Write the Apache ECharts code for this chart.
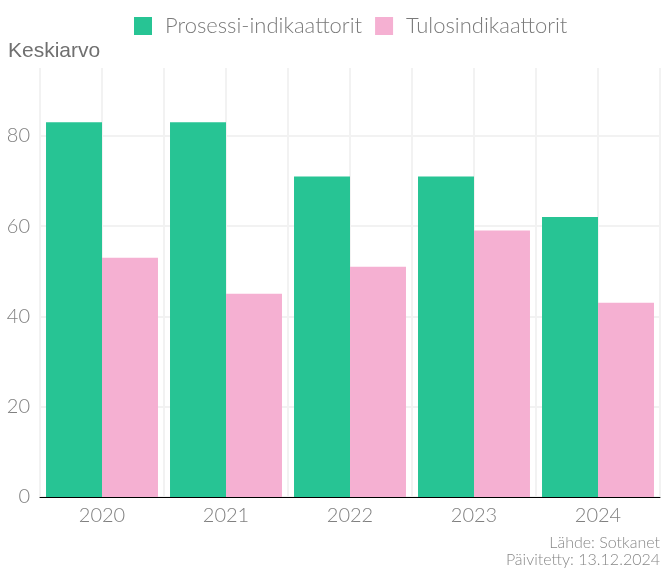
<!DOCTYPE html>
<html>
<head>
<meta charset="utf-8">
<script src="https://cdn.jsdelivr.net/npm/echarts@6/dist/echarts.min.js"></script>
<style>
  html, body { margin: 0; padding: 0; background: #fff; }
  #chart { width: 661px; height: 572px; }
</style>
</head>
<body>
<div id="chart"></div>
<script>
const years = ['2020', '2021', '2022', '2023', '2024']
const prosessi = [83, 83, 71, 71, 62]
const tulos = [53, 45, 51, 59, 43]
const seriesNames = ['Prosessi-indikaattorit', 'Tulosindikaattorit']
const colors = ['#27c494', '#f5b0d2']

const labelFont = 'Lato, "Noto Sans", sans-serif'
const chart = echarts.init(document.getElementById('chart'))

const option = {
  animation: false,
  color: colors,
  title: {
    text: 'Keskiarvo',
    left: 3,
    top: 36,
    textStyle: {
      fontFamily: '"Liberation Sans", Arial, sans-serif',
      fontSize: 21,
      fontWeight: 'normal',
      color: '#707070'
    }
  },
  graphic: [
    {
      type: 'text',
      right: 1,
      bottom: 4,
      style: {
        text: 'Lähde: Sotkanet\nPäivitetty: 13.12.2024',
        textAlign: 'right',
        font: '300 16px Lato, "Noto Sans", sans-serif',
        lineHeight: 17,
        fill: '#888'
      }
    }
  ],
  legend: {
    top: 10,
    left: 129,
    icon: 'rect',
    itemWidth: 18,
    itemHeight: 18,
    itemGap: 13,
    textStyle: {
      fontFamily: labelFont,
      fontSize: 22,
      fontWeight: 300,
      color: '#7a7a7a',
      padding: [0, 0, 0, 8]
    },
    data: seriesNames
  },
  grid: {
    left: 40,
    right: 1,
    top: 68,
    bottom: 75
  },
  xAxis: [
    {
      type: 'category',
      data: years,
      axisLine: { lineStyle: { color: '#000', width: 1 } },
      axisTick: { show: false },
      axisLabel: {
        fontFamily: labelFont,
        fontSize: 20,
        fontWeight: 300,
        color: '#808080',
        margin: 9
      },
      splitLine: { show: false }
    },
    {
      // half-category grid lines behind the bars
      type: 'value',
      min: 0,
      max: years.length * 2,
      interval: 1,
      position: 'bottom',
      axisLine: { show: false },
      axisTick: { show: false },
      axisLabel: { show: false },
      splitLine: { show: true, lineStyle: { color: '#f2f2f2', width: 2 } }
    }
  ],
  yAxis: {
    type: 'value',
    min: 0,
    max: 95,
    interval: 20,
    axisLine: { show: false },
    axisTick: { show: false },
    axisLabel: {
      fontFamily: labelFont,
      fontSize: 20,
      fontWeight: 300,
      color: '#808080',
      margin: 10,
      showMaxLabel: false
    },
    splitLine: {
      showMaxLine: false,
      lineStyle: { color: '#f2f2f2', width: 2 }
    }
  },
  series: [
    {
      name: seriesNames[0],
      type: 'bar',
      xAxisIndex: 0,
      data: prosessi,
      barGap: 0,
      barCategoryGap: '9.7%'
    },
    {
      name: seriesNames[1],
      type: 'bar',
      xAxisIndex: 0,
      data: tulos,
      barGap: 0,
      barCategoryGap: '9.7%'
    }
  ]
}

chart.setOption(option)
</script>
</body>
</html>
